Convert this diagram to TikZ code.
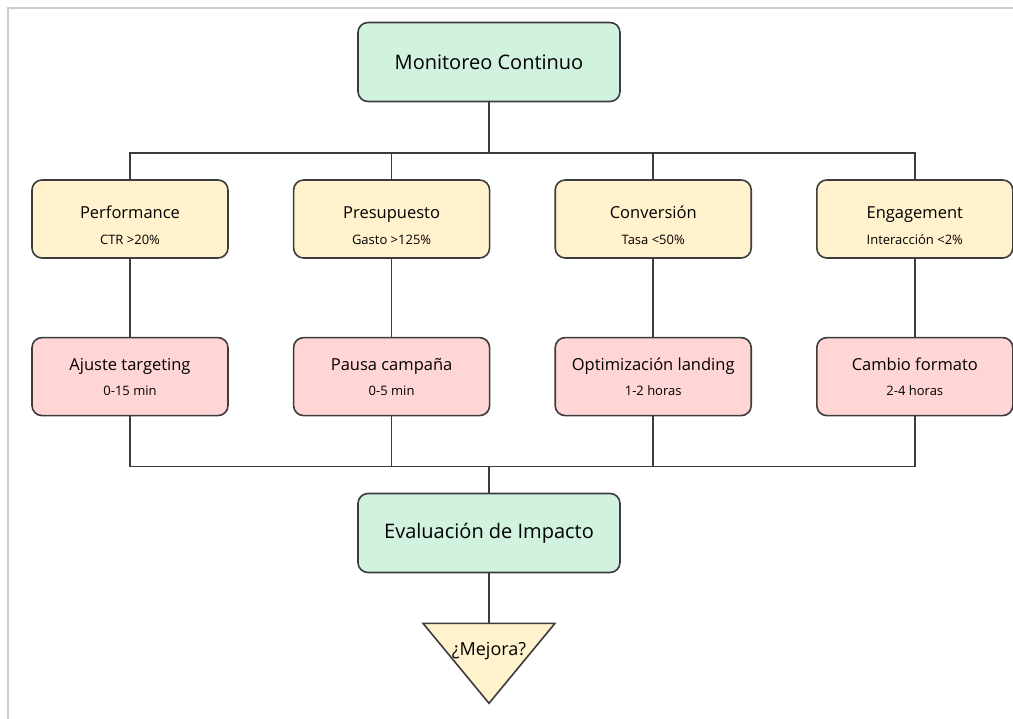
\documentclass[tikz,border=0pt]{standalone}
\usepackage{fontspec}
\setmainfont{Open Sans}
\usepackage{tikz}
\usetikzlibrary{arrows.meta,calc,positioning}
\definecolor{edge}{RGB}{60,60,60}
\definecolor{frame}{RGB}{204,204,204}
\definecolor{softmint}{RGB}{209,242,222}
\definecolor{softcream}{RGB}{255,242,204}
\definecolor{softrose}{RGB}{255,213,213}
\newcommand{\sub}[1]{{\fontsize{13}{16}\selectfont #1}}

\begin{document}
\begin{tikzpicture}[
  >=Latex,
  node distance=78pt and 64pt,
  line width=1.6pt,
  stage/.style={draw=edge,rounded corners=10pt,align=center,minimum height=79pt,minimum width=262pt,fill=softmint,font=\fontsize{20}{24}\selectfont},
  card/.style={draw=edge,rounded corners=10pt,align=center,minimum height=78pt,minimum width=196pt,font=\fontsize{16.5}{20}\selectfont},
  trigger/.style={card,fill=softcream},
  action/.style={card,fill=softrose},
  link/.style={draw=edge,line width=1.6pt},
  trunk/.style={draw=edge,line width=2.6pt}
]
  \useasboundingbox (0,0) rectangle (1013pt,-719pt);
  \draw[frame,line width=2pt] (7.5pt,-719pt) |- (1013pt,-8pt);

  \node[stage] (mon) at (489pt,-62pt) {Monitoreo Continuo};

  \node[trigger] (perf) at (130pt,-219pt) {\rule{0pt}{26pt}Performance\\[6pt]\sub{CTR >20\%}};
  \node[trigger,right=of perf] (pres) {\rule{0pt}{26pt}Presupuesto\\[6pt]\sub{Gasto >125\%}};
  \node[trigger,right=of pres] (conv) {\rule{0pt}{26pt}Conversión\\[6pt]\sub{Tasa <50\%}};
  \node[trigger,right=of conv] (eng) {\rule{0pt}{26pt}Engagement\\[6pt]\sub{Interacción <2\%}};

  \node[action,below=of perf] (targ) {Ajuste targeting\\[5pt]\sub{0-15 min}};
  \node[action,below=of pres] (pausa) {Pausa campaña\\[5pt]\sub{0-5 min}};
  \node[action,below=of conv] (land) {Optimización landing\\[5pt]\sub{1-2 horas}};
  \node[action,below=of eng] (form) {Cambio formato\\[5pt]\sub{2-4 horas}};

  \node[stage] (eva) at (489pt,-533pt) {Evaluación de Impacto};

  % split and merge points
  \coordinate (split) at ($(mon.south)+(0,-51pt)$);
  \coordinate (merge) at ($(eva.north)+(0,26pt)$);
  \coordinate (tip) at ($(eva.south)+(0,-50pt)$);

  \draw[trunk] (mon) -- (split);
  \foreach \n in {perf,pres,conv,eng}
    \draw[link] (split) -| (\n);
  \draw[link] (perf) -- (targ);
  \draw[link] (pres) -- (pausa);
  \draw[link] (conv) -- (land);
  \draw[link] (eng) -- (form);
  \foreach \n in {targ,pausa,land,form}
    \draw[link] (\n) |- (merge);
  \draw[link] (merge) -- (eva);
  \draw[link] (eva) -- (tip);

  % decision
  \draw[link,fill=softcream,line join=miter] ($(tip)+(-66pt,0)$) -- ($(tip)+(66pt,0)$) -- ($(tip)+(0,-80pt)$) -- cycle;
  \node[font=\fontsize{18}{21}\selectfont] (mej) at ($(tip)+(0,-28pt)$) {¿Mejora?};
\end{tikzpicture}
\end{document}
